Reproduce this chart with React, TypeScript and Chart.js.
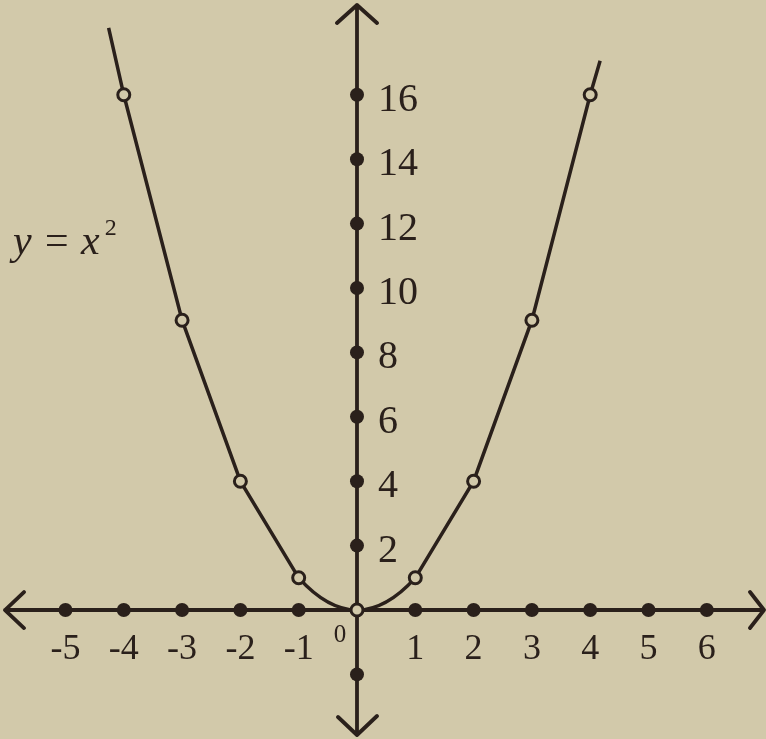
import React, { useEffect, useRef } from "react";
import { Chart, registerables } from "chart.js";

Chart.register(...registerables);

// ---- data ----
const xDotValues = [-5, -4, -3, -2, -1, 1, 2, 3, 4, 5, 6];
const yDotValues = [-2, 2, 4, 6, 8, 10, 12, 14, 16];
const xTickLabels = ["-5", "-4", "-3", "-2", "-1", "1", "2", "3", "4", "5", "6"];
const yTickValues = [2, 4, 6, 8, 10, 12, 14, 16];
const yTickLabels = ["2", "4", "6", "8", "10", "12", "14", "16"];
const markedX = [-4, -3, -2, -1, 0, 1, 2, 3, 4];
const markedY = [16, 9, 4, 1, 0, 1, 4, 9, 16];
const leftArmX = [-4.26, -4, -3, -2, -1];
const leftArmY = [18.08, 16, 9, 4, 1];
const rightArmX = [1, 2, 3, 4, 4.17];
const rightArmY = [1, 4, 9, 16, 17.06];
const vertexX = [-2, -1, 0, 1, 2];
const vertexY = [4, 1, 0, 1, 4];

const INK = "#2a201b";
const PAPER = "#d2c9aa";
const SERIF = "'Liberation Serif', 'DejaVu Serif', serif";

const toPts = (xs: number[], ys: number[]) => xs.map((x, i) => ({ x, y: ys[i] }));

const axesPlugin = {
  id: "axesPlugin",
  beforeDatasetsDraw(chart: any) {
    const { ctx, chartArea, scales } = chart;
    const xs = scales.x;
    const ys = scales.y;
    const y0 = ys.getPixelForValue(0);
    const x0 = xs.getPixelForValue(0);
    ctx.save();
    ctx.strokeStyle = INK;
    ctx.lineWidth = 3.8;
    ctx.lineCap = "round";
    ctx.lineJoin = "round";
    const L = chartArea.left + 5;
    const R = chartArea.right - 2;
    const T = chartArea.top + 5;
    const B = chartArea.bottom - 4;
    ctx.beginPath();
    ctx.moveTo(L, y0);
    ctx.lineTo(R, y0);
    ctx.moveTo(x0, T);
    ctx.lineTo(x0, B);
    // arrows
    ctx.moveTo(L + 19, y0 - 18);
    ctx.lineTo(L, y0);
    ctx.lineTo(L + 19, y0 + 18);
    ctx.moveTo(R - 14, y0 - 18);
    ctx.lineTo(R, y0);
    ctx.lineTo(R - 14, y0 + 18);
    ctx.moveTo(x0 - 20, T + 18);
    ctx.lineTo(x0, T);
    ctx.lineTo(x0 + 20, T + 18);
    ctx.moveTo(x0 - 19, B - 18);
    ctx.lineTo(x0, B);
    ctx.lineTo(x0 + 20, B - 19);
    ctx.stroke();
    ctx.restore();
  },
  afterDatasetsDraw(chart: any) {
    const { ctx, scales } = chart;
    const xs = scales.x;
    const ys = scales.y;
    const y0 = ys.getPixelForValue(0);
    const x0 = xs.getPixelForValue(0);
    ctx.save();
    ctx.fillStyle = INK;
    ctx.textBaseline = "alphabetic";
    // x tick labels
    ctx.font = `36px ${SERIF}`;
    ctx.textAlign = "center";
    xDotValues.forEach((v, i) => {
      ctx.fillText(xTickLabels[i], xs.getPixelForValue(v), y0 + 49);
    });
    // y tick labels
    ctx.font = `40px ${SERIF}`;
    ctx.textAlign = "left";
    yTickValues.forEach((v, i) => {
      ctx.fillText(yTickLabels[i], x0 + 21, ys.getPixelForValue(v) + 16);
    });
    // origin label
    ctx.font = `25px ${SERIF}`;
    ctx.textAlign = "center";
    ctx.fillText("0", x0 - 17, y0 + 32);
    // formula label
    ctx.font = `italic 42px ${SERIF}`;
    ctx.textAlign = "left";
    const txt = "y = x";
    ctx.fillText(txt, 13, 254);
    const w = ctx.measureText(txt).width;
    ctx.font = `24px ${SERIF}`;
    ctx.fillText("2", 13 + w + 5, 235);
    ctx.restore();
  },
};

export default function App() {
  const ref = useRef<HTMLCanvasElement | null>(null);

  useEffect(() => {
    document.body.style.margin = "0";
    document.body.style.background = PAPER;
    const canvas = ref.current;
    if (!canvas) return;
    const chart = new Chart(canvas, {
      type: "scatter",
      data: {
        datasets: [
          {
            label: "marked",
            data: toPts(markedX, markedY),
            showLine: false,
            pointRadius: 6,
            pointBorderWidth: 3,
            pointBackgroundColor: PAPER,
            pointBorderColor: INK,
          },
          {
            label: "vertex",
            data: toPts(vertexX, vertexY),
            showLine: true,
            cubicInterpolationMode: "monotone",
            borderColor: INK,
            borderWidth: 3.5,
            pointRadius: 0,
            segment: {
              borderColor: (c: any) =>
                c.p0DataIndex === 0 || c.p0DataIndex === 3 ? "rgba(0,0,0,0)" : INK,
            },
          } as any,
          {
            label: "left",
            data: toPts(leftArmX, leftArmY),
            showLine: true,
            tension: 0,
            borderColor: INK,
            borderWidth: 3.5,
            pointRadius: 0,
          },
          {
            label: "right",
            data: toPts(rightArmX, rightArmY),
            showLine: true,
            tension: 0,
            borderColor: INK,
            borderWidth: 3.5,
            pointRadius: 0,
          },
          {
            label: "xdots",
            data: xDotValues.map((x) => ({ x, y: 0 })),
            showLine: false,
            pointRadius: 7,
            pointBorderWidth: 0,
            pointBackgroundColor: INK,
            pointBorderColor: INK,
          },
          {
            label: "ydots",
            data: yDotValues.map((y) => ({ x: 0, y })),
            showLine: false,
            pointRadius: 7,
            pointBorderWidth: 0,
            pointBackgroundColor: INK,
            pointBorderColor: INK,
          },
        ],
      },
      options: {
        responsive: false,
        animation: false,
        events: [],
        layout: { padding: 0, autoPadding: false } as any,
        plugins: {
          legend: { display: false },
          tooltip: { enabled: false },
          title: { display: false },
        },
        scales: {
          x: { type: "linear", min: -6.123, max: 7.015, display: false },
          y: { type: "linear", min: -4.006, max: 18.944, display: false },
        },
        datasets: {
          scatter: { clip: false },
        } as any,
      },
      plugins: [axesPlugin],
    });
    return () => chart.destroy();
  }, []);

  return (
    <div style={{ width: 766, height: 739, background: PAPER }}>
      <canvas ref={ref} width={766} height={739} style={{ display: "block" }} />
    </div>
  );
}
